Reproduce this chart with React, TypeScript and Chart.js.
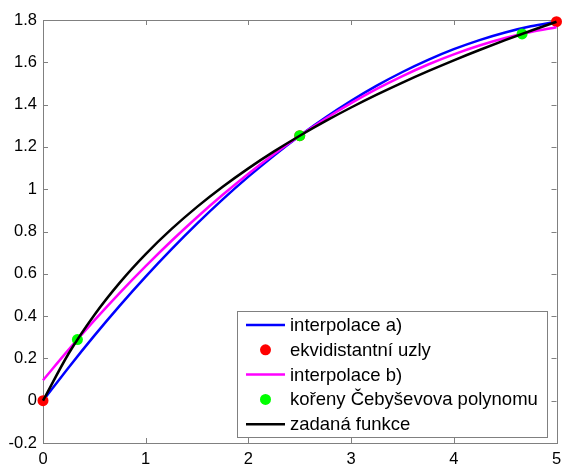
import React, { useEffect, useRef } from "react";
import { Chart, registerables } from "chart.js";

Chart.register(...registerables);

const xs = [0, 0.25, 0.5, 0.75, 1, 1.25, 1.5, 1.75, 2, 2.25, 2.5, 2.75, 3, 3.25, 3.5, 3.75, 4, 4.25, 4.5, 4.75, 5];
const interpA = [0, 0.1574, 0.3077, 0.4508, 0.5868, 0.7156, 0.8373, 0.9519, 1.0593, 1.1596, 1.2528, 1.3388, 1.4177, 1.4895, 1.5541, 1.6115, 1.6619, 1.7051, 1.7411, 1.77, 1.7918];
const interpB = [0.0967, 0.2412, 0.3794, 0.511, 0.6363, 0.7551, 0.8675, 0.9735, 1.073, 1.1661, 1.2528, 1.333, 1.4068, 1.4742, 1.5351, 1.5896, 1.6377, 1.6794, 1.7146, 1.7434, 1.7657];
const funcVals = [0, 0.2231, 0.4055, 0.5596, 0.6931, 0.8109, 0.9163, 1.0116, 1.0986, 1.1787, 1.2528, 1.3218, 1.3863, 1.4469, 1.5041, 1.5581, 1.6094, 1.6582, 1.7047, 1.7492, 1.7918];
const equiX = [0, 2.5, 5];
const equiY = [0, 1.2528, 1.7918];
const chebX = [0.335, 2.5, 4.665];
const chebY = [0.2889, 1.2528, 1.7343];
const xTicks = [0, 1, 2, 3, 4, 5];
const yTicks = [-0.2, 0, 0.2, 0.4, 0.6, 0.8, 1, 1.2, 1.4, 1.6, 1.8];
const yTickLabels = ["-0.2", "0", "0.2", "0.4", "0.6", "0.8", "1", "1.2", "1.4", "1.6", "1.8"];
const labels = ["interpolace a)", "ekvidistantní uzly", "interpolace b)", "kořeny Čebyševova polynomu", "zadaná funkce"];

const FONT = "'Liberation Sans', Arial, sans-serif";
const FRAME = "#808080";

const framePlugin = {
  id: "frame",
  beforeDatasetsDraw(chart: any) {
    const { ctx, chartArea: a, scales } = chart;
    ctx.save();
    ctx.strokeStyle = FRAME;
    ctx.lineWidth = 1;
    ctx.strokeRect(Math.round(a.left) + 0.5, Math.round(a.top) + 0.5, Math.round(a.right - a.left), Math.round(a.bottom - a.top));
    const tl = 5;
    ctx.beginPath();
    xTicks.forEach((v) => {
      const x = Math.round(scales.x.getPixelForValue(v)) + 0.5;
      ctx.moveTo(x, a.bottom);
      ctx.lineTo(x, a.bottom - tl);
      ctx.moveTo(x, a.top);
      ctx.lineTo(x, a.top + tl);
    });
    yTicks.forEach((v) => {
      const y = Math.round(scales.y.getPixelForValue(v)) + 0.5;
      ctx.moveTo(a.left, y);
      ctx.lineTo(a.left + tl, y);
      ctx.moveTo(a.right, y);
      ctx.lineTo(a.right - tl, y);
    });
    ctx.stroke();
    ctx.restore();
  },
};

const legendPlugin = {
  id: "boxLegend",
  afterDraw(chart: any) {
    const { ctx } = chart;
    const ds = chart.data.datasets;
    const left = 237, top = 311, right = 547, bottom = 437;
    ctx.save();
    ctx.fillStyle = "#ffffff";
    ctx.fillRect(left, top, right - left, bottom - top);
    ctx.strokeStyle = FRAME;
    ctx.lineWidth = 1;
    ctx.strokeRect(left + 0.5, top + 0.5, right - left, bottom - top);
    ctx.font = `18.5px ${FONT}`;
    ctx.textBaseline = "middle";
    ctx.textAlign = "left";
    ds.forEach((d: any, i: number) => {
      const y = 325 + i * 24.8;
      if (d.showLine === false) {
        ctx.fillStyle = d.backgroundColor;
        ctx.beginPath();
        ctx.arc(265.5, y, 5.5, 0, Math.PI * 2);
        ctx.fill();
      } else {
        ctx.strokeStyle = d.borderColor;
        ctx.lineWidth = 2.5;
        ctx.beginPath();
        ctx.moveTo(246, y);
        ctx.lineTo(285, y);
        ctx.stroke();
      }
      ctx.fillStyle = "#000";
      ctx.fillText(d.label, 290, y + 1);
    });
    ctx.restore();
  },
};

export default function App() {
  const ref = useRef<HTMLCanvasElement>(null);
  useEffect(() => {
    const lineData = (ys: number[]) => xs.map((x, i) => ({ x, y: ys[i] }));
    const ptData = (px: number[], py: number[]) => px.map((x, i) => ({ x, y: py[i] }));
    const lineStyle = { showLine: true, borderWidth: 2.5, pointRadius: 0, clip: false, cubicInterpolationMode: "monotone" };
    const chart = new Chart(ref.current!, {
      type: "scatter",
      data: {
        datasets: [
          { label: labels[0], order: 5, data: lineData(interpA), ...lineStyle, borderColor: "#0000ff", backgroundColor: "#0000ff" },
          { label: labels[1], order: 4, data: ptData(equiX, equiY), showLine: false, borderColor: "#ff0000", backgroundColor: "#ff0000", pointRadius: 5.5, borderWidth: 0, clip: false },
          { label: labels[2], order: 3, data: lineData(interpB), ...lineStyle, borderColor: "#ff00ff", backgroundColor: "#ff00ff" },
          { label: labels[3], order: 2, data: ptData(chebX, chebY), showLine: false, borderColor: "#00ff00", backgroundColor: "#00ff00", pointRadius: 5.5, borderWidth: 0, clip: false },
          { label: labels[4], order: 1, data: lineData(funcVals), ...lineStyle, borderColor: "#000000", backgroundColor: "#000000" },
        ] as any,
      },
      options: {
        responsive: false,
        animation: false,
        devicePixelRatio: 1,
        layout: { padding: { top: 20, right: 5, left: 0, bottom: 0 } },
        plugins: { legend: { display: false }, tooltip: { enabled: false } },
        scales: {
          x: {
            type: "linear",
            min: 0,
            max: 5,
            grid: { display: false, drawTicks: false },
            border: { display: false },
            afterBuildTicks: (s: any) => { s.ticks = xTicks.map((v) => ({ value: v })); },
            afterFit: (s: any) => { s.height = 21; s.paddingLeft = 0; s.paddingRight = 0; },
            ticks: { color: "#000", padding: 7, font: { family: FONT, size: 16.5 }, callback: (v: any) => String(v), maxRotation: 0, autoSkip: false },
          },
          y: {
            type: "linear",
            min: -0.2,
            max: 1.8,
            grid: { display: false, drawTicks: false },
            border: { display: false },
            afterBuildTicks: (s: any) => { s.ticks = yTicks.map((v) => ({ value: v })); },
            afterFit: (s: any) => { s.width = 43; s.paddingTop = 0; s.paddingBottom = 0; },
            ticks: {
              color: "#000",
              padding: 6,
              font: { family: FONT, size: 16.5 },
              autoSkip: false,
              callback: (v: any) => {
                const i = yTicks.findIndex((t) => Math.abs(t - v) < 1e-6);
                return i >= 0 ? yTickLabels[i] : "";
              },
            },
          },
        },
      },
      plugins: [framePlugin, legendPlugin],
    });
    return () => chart.destroy();
  }, []);
  return (
    <div style={{ position: "fixed", left: 0, top: 0, width: 562, height: 464, background: "#fff" }}>
      <canvas ref={ref} width={562} height={464} style={{ width: 562, height: 464, display: "block" }} />
    </div>
  );
}
